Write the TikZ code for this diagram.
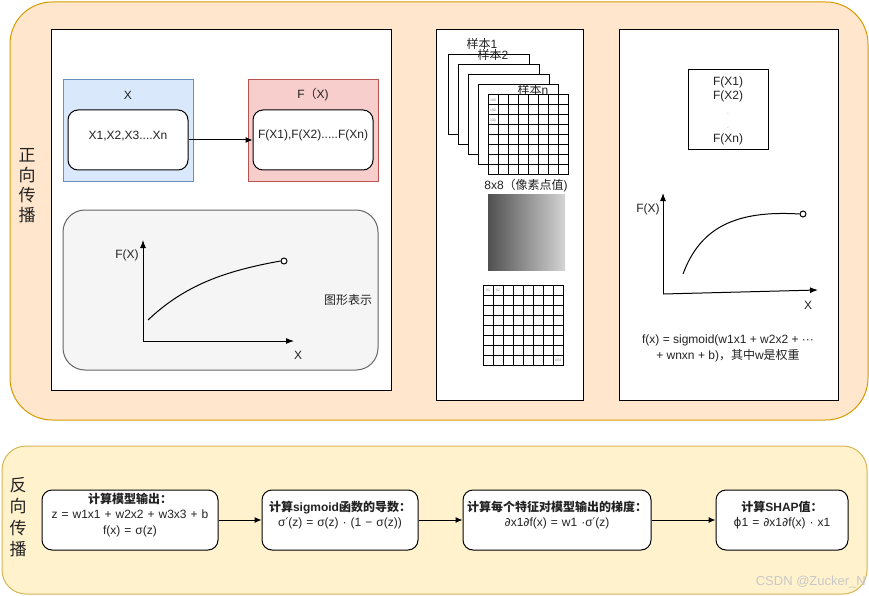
\documentclass[tikz,border=0pt]{standalone}
\usepackage{fontspec}
\setmainfont{Liberation Sans}
\newfontfamily\zhf{Noto Sans CJK SC}
\newfontfamily\dvf{DejaVu Sans}
\newcommand\zh[1]{{\zhf #1}}
\newcommand\dv[1]{{\dvf #1}}
\usetikzlibrary{arrows.meta,fit}
\definecolor{topfill}{HTML}{FFE6CC}
\definecolor{topline}{HTML}{D79B00}
\definecolor{botfill}{HTML}{FFF2CC}
\definecolor{botline}{HTML}{D6B656}
\definecolor{bluefill}{HTML}{DAE8FC}
\definecolor{blueline}{HTML}{6C8EBF}
\definecolor{redfill}{HTML}{F8CECC}
\definecolor{redline}{HTML}{B85450}
\definecolor{grayfill}{HTML}{F5F5F5}
\definecolor{grayline}{HTML}{666666}
\definecolor{txt}{HTML}{222222}
\begin{document}
\begin{tikzpicture}[x=1pt,y=-1pt,
  font=\fontsize{12}{14}\selectfont, text=txt,
  every node/.style={inner sep=0pt},
  area/.style={fit={#1}, inner sep=0pt, line width=1pt},
  panel/.style={draw=black, fill=white, line width=1pt},
  rbox/.style={draw=black, fill=white, rounded corners=10pt, line width=1pt, align=center},
  arr/.style={-{Latex[length=7pt,width=6pt]}, line width=1pt},
  axis/.style={-{Latex[length=8pt,width=6pt]}, line width=1pt},
  tiny/.style={font=\fontsize{3.5}{4}\selectfont, text=gray},
  cell/.style={draw=black, fill=white, line width=1pt}]
\useasboundingbox (0,0) rectangle (869,596);

% outer areas
\node[area={(10,2) (868,420)}, draw=topline, fill=topfill, rounded corners=42pt] (fwd) {};
\node[area={(2,446) (867,594)}, draw=botline, fill=botfill, rounded corners=24pt] (bwd) {};
\node[align=center, font=\fontsize{17}{20}\selectfont] (fwdlab) at (27,186) {\zh{正}\\\zh{向}\\\zh{传}\\\zh{播}};
\node[align=center, font=\fontsize{17}{21.5}\selectfont] (bwdlab) at (18,517) {\zh{反}\\\zh{向}\\\zh{传}\\\zh{播}};

% panel 1
\node[area={(51,30) (391,390)}, panel] (p1) {};
\node[area={(63,80) (193,181)}, draw=blueline, fill=bluefill] (xbox) {};
\node (xtitle) at (128,95) {X};
\node[area={(68,110) (188,170)}, rbox] (xin) {X1,X2,X3....Xn};
\node[area={(248,80) (378,181)}, draw=redline, fill=redfill] (fbox) {};
\node (ftitle) at (313,95) {F\zh{（}X)};
\node[area={(253,110) (373,170)}, rbox] (fin) {F(X1),F(X2).....F(Xn)};
\draw[arr] (xin.east) -- (fin.west);

\node[area={(63,210) (378,370)}, draw=grayline, fill=grayfill, rounded corners=22pt, line width=1pt] (graph1) {};
\coordinate (o1) at (143,341);
\coordinate (ya1) at (143,240);
\coordinate (xa1) at (294,341);
\draw[axis] (o1) -- (ya1);
\draw[axis] (o1) -- (xa1);
\node (fx1) at (127,255) {F(X)};
\node (xl1) at (298,355) {X};
\node[circle, draw=black, fill=white, minimum size=6pt, line width=1pt] (end1) at (284,261) {};
\coordinate (s1) at (148,320);
\draw[line width=1pt] (s1) .. controls (185,285) and (225,271) .. (end1.west);
\node (tuxing) at (348,300) {\zh{图形表示}};

% panel 2
\node[area={(436,30) (583,400)}, panel] (p2) {};
\node[area={(448,55) (529,135)}, cell] (s1r) {};
\node[area={(458,65) (539,145)}, cell] (s2r) {};
\node[area={(468,75) (549,155)}, cell] (s3r) {};
\node[area={(478,85) (558,165)}, cell] (s4r) {};
\node (lab1) at (482,44) {\zh{样本}1};
\node (lab2) at (493,55) {\zh{样本}2};
\node (labn) at (533,90) {\zh{样本}n};
\node[area={(488,95) (568,175)}, cell] (grid1) {};
\foreach \i in {1,...,7} {
  \draw[line width=1pt] (488+10*\i,95) -- (488+10*\i,175);
  \draw[line width=1pt] (488,95+10*\i) -- (568,95+10*\i);
}
\foreach \r in {0,1,2} {
  \node[tiny] (hund\r) at (493,100+10*\r) {100};
}
\node (pix) at (526,186) {8x8\zh{（像素点值})};
\shade[left color={rgb,255:red,80;green,80;blue,80}, right color={rgb,255:red,212;green,212;blue,212}] (488,194) rectangle (565,270);
\node[area={(483,285) (563,365)}, cell] (grid2) {};
\foreach \i in {1,...,7} {
  \draw[line width=1pt] (483+10*\i,285) -- (483+10*\i,365);
  \draw[line width=1pt] (483,285+10*\i) -- (563,285+10*\i);
}
\node[tiny] (gx1) at (488,290) {X1};
\node[tiny] (gx2) at (498,290) {X2};
\node[tiny] (gx64) at (558,360) {X64};

% panel 3
\node[area={(619,30) (838,400)}, panel] (p3) {};
\node[area={(688,70) (768,150)}, draw=black, fill=white, line width=1pt] (fl) {};
\node[align=center, font=\fontsize{12}{14.2}\selectfont] (fltext) at (728,111) {F(X1)\\F(X2)\\{\tiny.}\\{\tiny.}\\F(Xn)};
\coordinate (o2) at (663,294);
\coordinate (ya2) at (663,193);
\coordinate (xa2) at (818,290);
\draw[axis] (o2) -- (ya2);
\draw[axis] (o2) -- (xa2);
\node (fx2) at (648,209) {F(X)};
\node (xl2) at (808,305) {X};
\node[circle, draw=black, fill=white, minimum size=6pt, line width=1pt] (end2) at (803,214) {};
\coordinate (s2) at (683,274);
\draw[line width=1pt] (s2) .. controls (700,228) and (735,210) .. (end2.west);
\node[align=center, font=\fontsize{12}{16}\selectfont] (formula) at (728,348) {f(x) = sigmoid(w1x1 + w2x2 + ···\\+ wnxn + b)\zh{，其中}w\zh{是权重}};

% backward boxes
\node[area={(42,490) (218,550)}, rbox, font=\fontsize{12}{15.5}\selectfont] (b1) {\textbf{\zh{计算模型输出：}}\\z = w1x1 + w2x2 + w3x3 + b\\f(x) = σ(z)};
\node[area={(262,490) (418,550)}, rbox, font=\fontsize{12}{15}\selectfont] (b2) {\textbf{\zh{计算}sigmoid\zh{函数的导数：}}\\σ\dv{′}(z) = σ(z) · (1 − σ(z))};
\node[area={(463,490) (651,550)}, rbox, font=\fontsize{12}{15}\selectfont] (b3) {\textbf{\zh{计算每个特征对模型输出的梯度：}}\\\dv{∂}x1\dv{∂}f(x) = w1 ·σ\dv{′}(z)};
\node[area={(716,490) (848,550)}, rbox, font=\fontsize{12}{15}\selectfont] (b4) {\textbf{\zh{计算}SHAP\zh{值：}}\\\dv{ϕ}1 = \dv{∂}x1\dv{∂}f(x) · x1};
\draw[arr] (b1.east) -- (b2.west);
\draw[arr] (b2.east) -- (b3.west);
\draw[arr] (b3.east) -- (b4.west);

\node[anchor=east, text={rgb,255:red,200;green,200;blue,200}, font=\fontsize{13}{15}\selectfont] (wm) at (866,582) {CSDN @Zucker\_N};
\end{tikzpicture}
\end{document}
